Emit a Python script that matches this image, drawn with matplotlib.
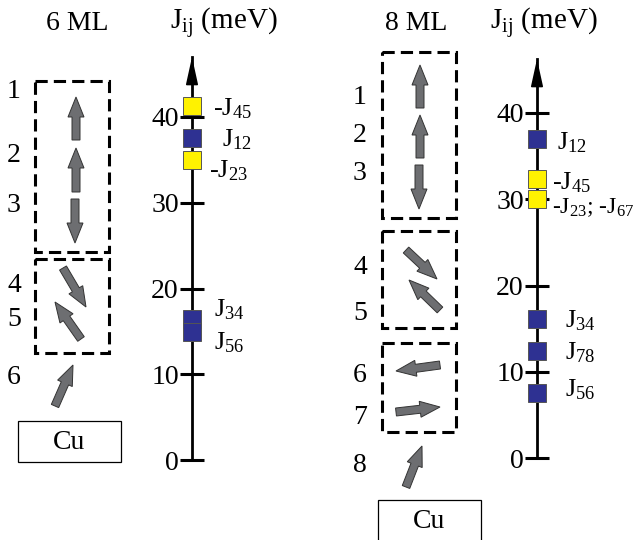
import matplotlib
matplotlib.use('Agg')
import matplotlib.pyplot as plt
from matplotlib.patches import Rectangle, FancyArrow

plt.rcParams['font.family'] = 'serif'
plt.rcParams['font.serif'] = ['Liberation Serif']
plt.rcParams['mathtext.fontset'] = 'custom'
plt.rcParams['mathtext.rm'] = 'Liberation Serif'
plt.rcParams['mathtext.it'] = 'Liberation Serif:italic'

YELLOW = '#fff200'
BLUE = '#2e3192'

# exchange couplings (meV), 6 ML film
j6_labels = ['-J$_{45}$', 'J$_{12}$', '-J$_{23}$', 'J$_{34}$', 'J$_{56}$']
j6_values = [41.3, 37.6, 35.0, 16.5, 14.9]
j6_colors = [YELLOW, BLUE, YELLOW, BLUE, BLUE]

# exchange couplings (meV), 8 ML film
j8_labels = ['J$_{12}$', '-J$_{45}$', '-J$_{23}$; -J$_{67}$', 'J$_{34}$', 'J$_{78}$', 'J$_{56}$']
j8_values = [37.0, 32.3, 30.0, 16.1, 12.4, 7.5]
j8_colors = [BLUE, YELLOW, YELLOW, BLUE, BLUE, BLUE]

j_ticks = [0, 10, 20, 30, 40]

W, H = 641, 540
fig = plt.figure(figsize=(W / 100, H / 100), dpi=100)


def px_axes(x0, x1, y_top, y_bottom):
    return fig.add_axes([x0 / W, 1 - y_bottom / H, (x1 - x0) / W, (y_bottom - y_top) / H])


def j_scale(xc, y0, y40, y_arrow, values, colors, labels, lab_dx, lab_dy, lab_fs):
    ppm = (y0 - y40) / 40.0
    top = (y0 - y_arrow) / ppm
    ax = px_axes(xc - 80, xc + 80, y_arrow, y0)
    ax.patch.set_visible(False)
    ax.set_xlim(-80, 80)
    ax.set_ylim(0, top)
    for s in ['top', 'right', 'bottom']:
        ax.spines[s].set_visible(False)
    ax.spines['left'].set_position(('data', 0))
    ax.spines['left'].set_linewidth(2)
    ax.set_xticks([])
    ax.set_yticks(j_ticks)
    ax.tick_params(axis='y', direction='inout', length=17, width=2.2, pad=1, labelsize=20)
    ax.annotate('', xy=(0, top), xytext=(0, top - 1.5),
                arrowprops=dict(arrowstyle='-|>,head_length=1.0,head_width=0.22',
                                color='black', lw=1.2, mutation_scale=17, shrinkA=0, shrinkB=0),
                annotation_clip=False)
    for v, c, lab, dx, dy, fs in zip(values, colors, labels, lab_dx, lab_dy, lab_fs):
        ax.plot(0, v, 's', ms=12.5, mfc=c, mec='#555555', mew=0.7, zorder=5, clip_on=False)
        ax.text(dx, v - dy / ppm, lab, fontsize=fs, va='baseline', ha='left', clip_on=False)
    return ax


j_scale(192, 460, 117, 57, j6_values, j6_colors, j6_labels,
        [21, 30, 17, 22, 22], [10, 9, 18, -2, 17], [19] * 5)
j_scale(537, 458, 113, 59, j8_values, j8_colors, j8_labels,
        [20, 15, 15, 28, 28, 28], [11, 10, 14, 8, 8, 3], [19, 19, 17, 19, 19, 19])

# schematic overlay in pixel coordinates
ov = fig.add_axes([0, 0, 1, 1])
ov.set_xlim(0, W)
ov.set_ylim(H, 0)
ov.axis('off')
ov.patch.set_visible(False)


def dbox(x0, y0, x1, y1):
    ov.add_patch(Rectangle((x0, y0), x1 - x0, y1 - y0, fill=False, ec='black',
                           lw=2.2, ls=(0, (4, 2))))


def spin(x0, y0, x1, y1):
    ov.add_patch(FancyArrow(x0, y0, x1 - x0, y1 - y0, width=8, head_width=16,
                            head_length=20, length_includes_head=True,
                            fc='#6d6e71', ec='#333333', lw=0.7))


def cu(x0, y0, x1, y1):
    ov.add_patch(Rectangle((x0, y0), x1 - x0, y1 - y0, fill=False, ec='black', lw=0.9))
    ov.text((x0 + x1) / 2, (y0 + y1) / 2 + 1, 'Cu', fontsize=20, ha='center', va='center')


def lab(x, y, s):
    ov.text(x, y, s, fontsize=20, ha='center', va='center')


# 6 ML
lab(77, 23, '6 ML')
ov.text(224, 23, 'J$_{\\mathrm{ij}}$ (meV)', fontsize=21, ha='center', va='center')
for n, y in zip(['1', '2', '3', '4', '5', '6'], [92, 155, 205, 286, 320, 377]):
    lab(14, y, n)
dbox(35, 81, 109, 252)
dbox(35, 259, 109, 353)
spin(76, 140, 76, 97)
spin(76, 192, 76, 148)
spin(75, 199, 75, 243)
spin(63, 268, 86, 307)
spin(81, 339, 55, 302)
spin(55, 406, 73, 365)
cu(18, 421, 121, 462)

# 8 ML
lab(416, 23, '8 ML')
ov.text(544, 23, 'J$_{\\mathrm{ij}}$ (meV)', fontsize=21, ha='center', va='center')
for n, y in zip(['1', '2', '3', '4', '5', '6', '7', '8'],
                [97, 135, 173, 267, 313, 375, 418, 465]):
    lab(360, y, n)
dbox(382, 52, 456, 218)
dbox(382, 231, 456, 328)
dbox(382, 343, 456, 432)
spin(420, 108, 420, 65)
spin(420, 158, 420, 115)
spin(419, 165, 419, 209)
spin(406, 250, 437, 279)
spin(440, 310, 409, 280)
spin(440, 365, 396, 371)
spin(396, 412, 440, 407)
spin(406, 487, 422, 446)
cu(378, 500, 481, 541)

fig.savefig('out.png', dpi=100)
